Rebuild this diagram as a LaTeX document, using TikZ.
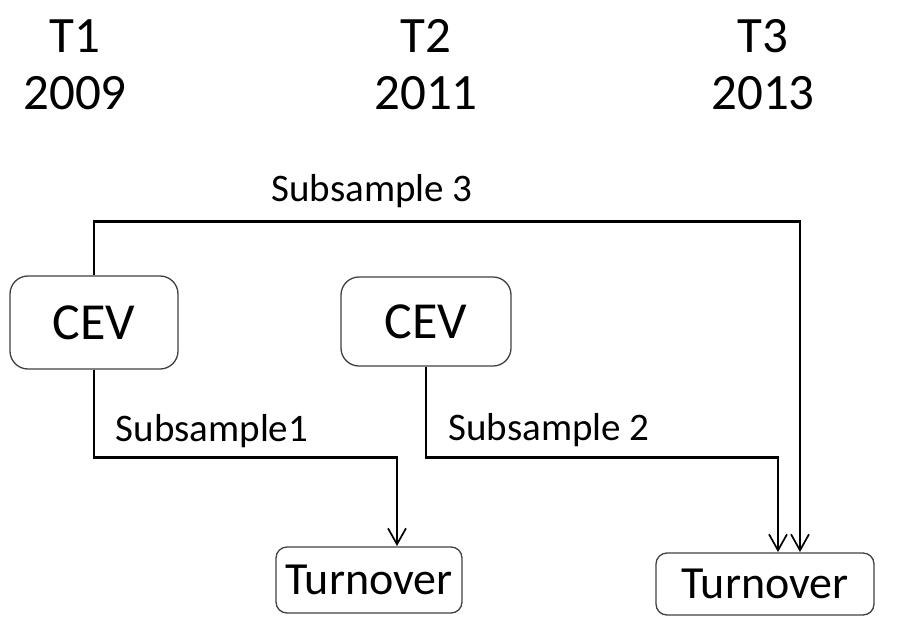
\documentclass[tikz,border=0pt]{standalone}
\usepackage{fontspec}
\setmainfont{Carlito}
\usetikzlibrary{arrows.meta}
\begin{document}
\begin{tikzpicture}[x=1pt,y=-1pt,
  box/.style={draw=black!75,line width=1.3pt,rounded corners=18pt,inner sep=0pt},
  tbox/.style={draw=black!75,line width=1.3pt,rounded corners=11pt,inner sep=0pt},
  link/.style={line width=2.4pt,-{Straight Barb[length=16pt,width=18pt,line width=1.7pt]}},
  yr/.style={font=\fontsize{51}{51}\selectfont},
  lab/.style={font=\fontsize{39}{39}\selectfont}]
\useasboundingbox (0,0) rectangle (906,619);
% time points
\node[yr] (t1) at (75,36) {T1};
\node[yr] (y1) at (75,93) {2009};
\node[yr] (t2) at (426,36) {T2};
\node[yr] (y2) at (426,93) {2011};
\node[yr] (t3) at (763,36) {T3};
\node[yr] (y3) at (763,93) {2013};
% boxes
\node[box,minimum width=168pt,minimum height=93pt,font=\fontsize{52}{52}\selectfont] (cev1) at (94,322.5) {CEV};
\node[box,minimum width=170pt,minimum height=89pt,font=\fontsize{52}{52}\selectfont] (cev2) at (426,321.5) {CEV};
\node[tbox,minimum width=186pt,minimum height=66pt,font=\fontsize{46}{46}\selectfont] (turn1) at (369,580) {Turnover};
\node[tbox,minimum width=218pt,minimum height=62pt,font=\fontsize{46}{46}\selectfont] (turn2) at (765,584) {Turnover};
\coordinate (in1) at (397,546);
\coordinate (in2a) at (778,552);
\coordinate (in2b) at (800,552);
% paths
\draw[link] (cev1.north) -- ++(0,-54) -| (in2b);
\draw[link] (cev1.south) -- ++(0,88) -| (in1);
\draw[link] (cev2.south) -- ++(0,91) -| (in2a);
\node[lab] (s3) at (372,191) {Subsample 3};
\node[lab] (s1) at (212,431) {Subsample1};
\node[lab] (s2) at (549,430) {Subsample 2};
\end{tikzpicture}
\end{document}
